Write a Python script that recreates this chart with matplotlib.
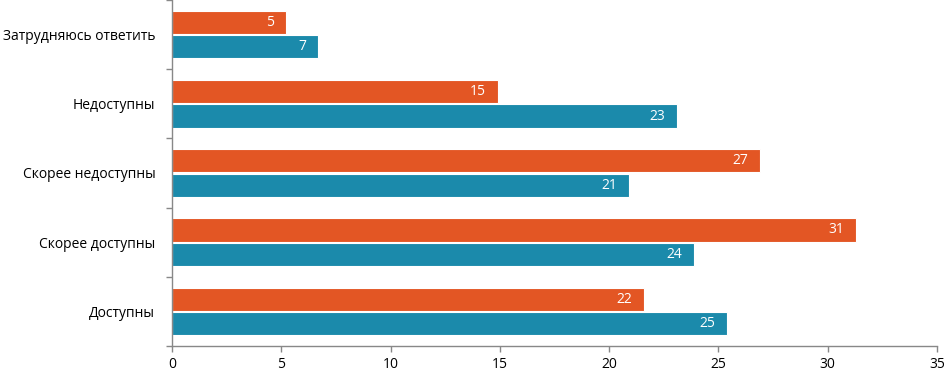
import matplotlib
matplotlib.use("Agg")
import matplotlib.pyplot as plt
import numpy as np

categories = ["Доступны", "Скорее доступны", "Скорее недоступны", "Недоступны", "Затрудняюсь ответить"]
orange_vals = [21.6, 31.3, 26.9, 14.9, 5.2]
teal_vals = [25.4, 23.9, 20.9, 23.1, 6.7]
x_ticks = [0, 5, 10, 15, 20, 25, 30, 35]

plt.rcParams['font.family'] = ['Open Sans', 'DejaVu Sans']

fig = plt.figure(figsize=(9.45, 3.73), dpi=100)
ax = fig.add_axes([172/945, 27/373, 765/945, 346/373])

y = np.arange(len(categories))
h = 0.335
orange = "#E35624"
teal = "#1B8AAB"
b1 = ax.barh(y + h/2 + 0.01, orange_vals, height=h, color=orange, edgecolor="white", linewidth=0.8)
b2 = ax.barh(y - h/2 - 0.01, teal_vals, height=h, color=teal, edgecolor="white", linewidth=0.8)
for bars, vals in ((b1, orange_vals), (b2, teal_vals)):
    for bar, v in zip(bars, vals):
        ax.text(bar.get_width() - 0.55, bar.get_y() + bar.get_height()/2, f"{v:.0f}",
                ha="right", va="center", color="white", fontsize=10)

ax.set_xlim(0, 35)
ax.set_ylim(-0.5, 4.5)
ax.set_xticks(x_ticks)
ax.set_xticklabels([str(t) for t in x_ticks], fontsize=10)
ax.set_yticks(y)
ax.set_yticklabels(categories, fontsize=10)
ax.set_yticks(np.arange(-0.5, 4.6, 1), minor=True)
ax.tick_params(axis='y', which='major', length=0, pad=12)
ax.tick_params(axis='y', which='minor', length=4, color="#888888", width=1)
ax.tick_params(axis='x', which='major', length=4, color="#888888", width=1, pad=4)
for s in ("top", "right"):
    ax.spines[s].set_visible(False)
for s in ("left", "bottom"):
    ax.spines[s].set_color("#888888")
    ax.spines[s].set_linewidth(1)

fig.savefig("out.png", dpi=100)
